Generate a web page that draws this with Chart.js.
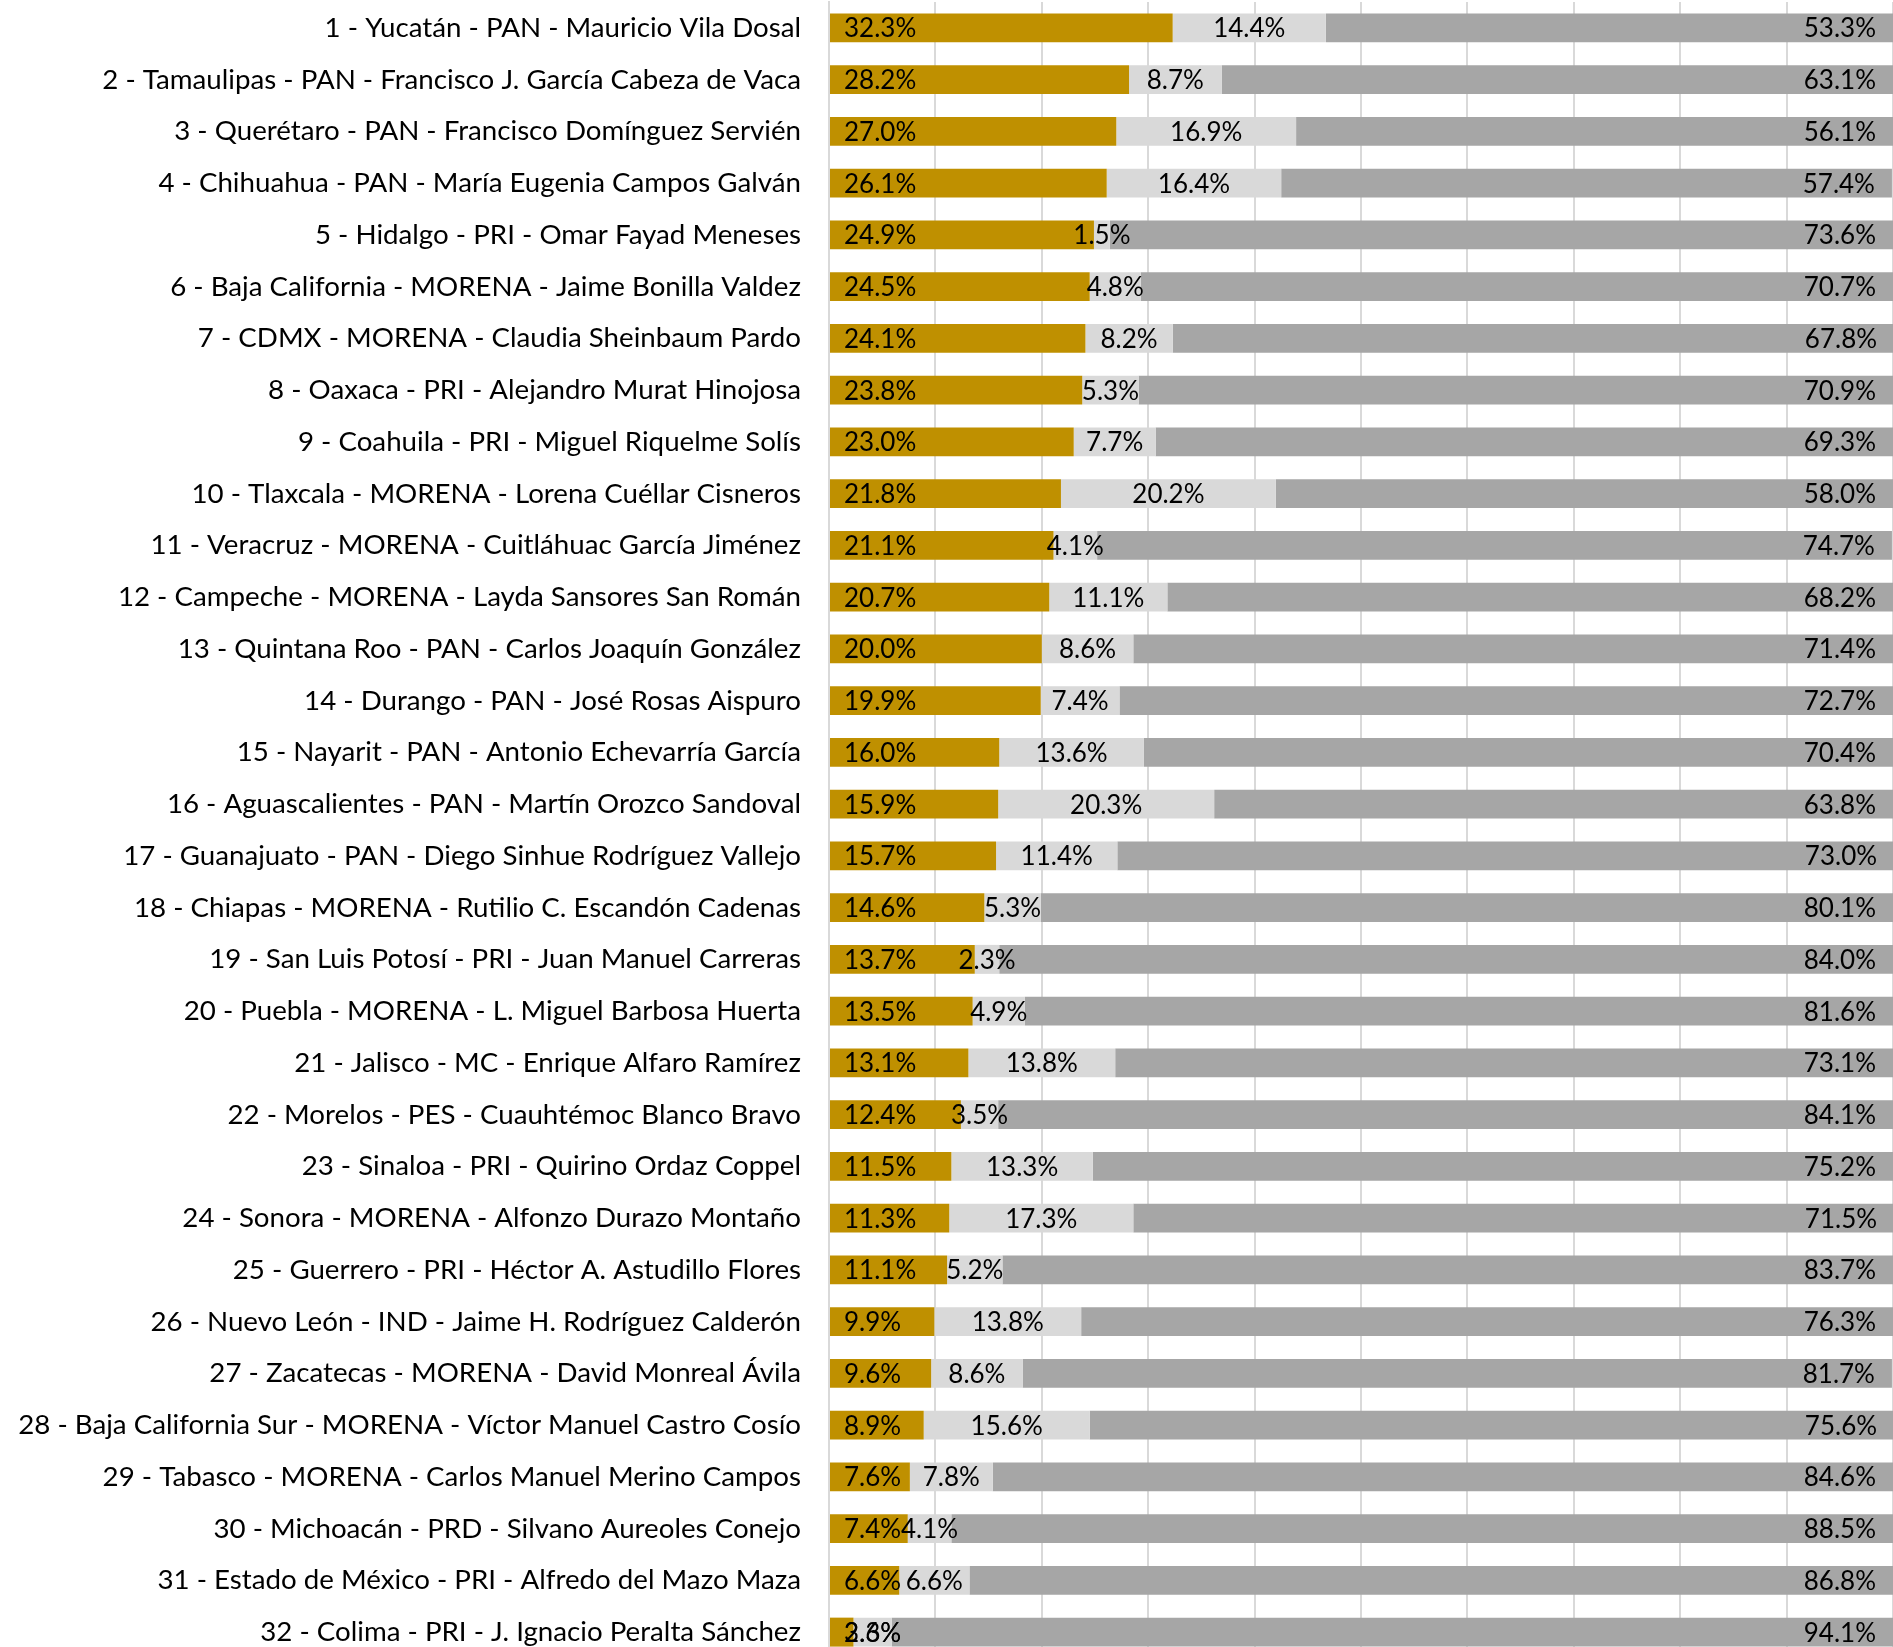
<!DOCTYPE html>
<html>
<head>
<meta charset="utf-8">
<script src="https://cdn.jsdelivr.net/npm/chart.js@4.4.1/dist/chart.umd.min.js"></script>
<style>
  html, body { margin: 0; padding: 0; background: #fff; overflow: hidden; }
  #chart { position: absolute; left: 0; top: 0; }
</style>
</head>
<body>
<canvas id="chart" width="1893" height="1660" style="width:1893px;height:1660px"></canvas>
<script>
// ranking of governors
const states = ['Yucatán', 'Tamaulipas', 'Querétaro', 'Chihuahua', 'Hidalgo', 'Baja California', 'CDMX', 'Oaxaca',
    'Coahuila', 'Tlaxcala', 'Veracruz', 'Campeche', 'Quintana Roo', 'Durango', 'Nayarit', 'Aguascalientes',
    'Guanajuato', 'Chiapas', 'San Luis Potosí', 'Puebla', 'Jalisco', 'Morelos', 'Sinaloa', 'Sonora',
    'Guerrero', 'Nuevo León', 'Zacatecas', 'Baja California Sur', 'Tabasco', 'Michoacán', 'Estado de México', 'Colima']
const parties = ['PAN', 'PAN', 'PAN', 'PAN', 'PRI', 'MORENA', 'MORENA', 'PRI',
    'PRI', 'MORENA', 'MORENA', 'MORENA', 'PAN', 'PAN', 'PAN', 'PAN',
    'PAN', 'MORENA', 'PRI', 'MORENA', 'MC', 'PES', 'PRI', 'MORENA',
    'PRI', 'IND', 'MORENA', 'MORENA', 'MORENA', 'PRD', 'PRI', 'PRI']
const governors = ['Mauricio Vila Dosal', 'Francisco J. García Cabeza de Vaca', 'Francisco Domínguez Servién',
    'María Eugenia Campos Galván', 'Omar Fayad Meneses', 'Jaime Bonilla Valdez', 'Claudia Sheinbaum Pardo',
    'Alejandro Murat Hinojosa', 'Miguel Riquelme Solís', 'Lorena Cuéllar Cisneros', 'Cuitláhuac García Jiménez',
    'Layda Sansores San Román', 'Carlos Joaquín González', 'José Rosas Aispuro', 'Antonio Echevarría García',
    'Martín Orozco Sandoval', 'Diego Sinhue Rodríguez Vallejo', 'Rutilio C. Escandón Cadenas', 'Juan Manuel Carreras',
    'L. Miguel Barbosa Huerta', 'Enrique Alfaro Ramírez', 'Cuauhtémoc Blanco Bravo', 'Quirino Ordaz Coppel',
    'Alfonzo Durazo Montaño', 'Héctor A. Astudillo Flores', 'Jaime H. Rodríguez Calderón', 'David Monreal Ávila',
    'Víctor Manuel Castro Cosío', 'Carlos Manuel Merino Campos', 'Silvano Aureoles Conejo', 'Alfredo del Mazo Maza',
    'J. Ignacio Peralta Sánchez']

const serie1 = [32.3, 28.2, 27.0, 26.1, 24.9, 24.5, 24.1, 23.8, 23.0, 21.8, 21.1, 20.7, 20.0, 19.9, 16.0, 15.9,
    15.7, 14.6, 13.7, 13.5, 13.1, 12.4, 11.5, 11.3, 11.1, 9.9, 9.6, 8.9, 7.6, 7.4, 6.6, 2.3]
const serie2 = [14.4, 8.7, 16.9, 16.4, 1.5, 4.8, 8.2, 5.3, 7.7, 20.2, 4.1, 11.1, 8.6, 7.4, 13.6, 20.3,
    11.4, 5.3, 2.3, 4.9, 13.8, 3.5, 13.3, 17.3, 5.2, 13.8, 8.6, 15.6, 7.8, 4.1, 6.6, 3.6]
const serie3 = [53.3, 63.1, 56.1, 57.4, 73.6, 70.7, 67.8, 70.9, 69.3, 58.0, 74.7, 68.2, 71.4, 72.7, 70.4, 63.8,
    73.0, 80.1, 84.0, 81.6, 73.1, 84.1, 75.2, 71.5, 83.7, 76.3, 81.7, 75.6, 84.6, 88.5, 86.8, 94.1]

const labels = states.map((s, i) => `${i + 1} - ${s} - ${parties[i]} - ${governors[i]}`)

const FONT = 'Lato, "Open Sans", sans-serif'
const GRID = '#D9D9D9'

// draws value labels: first series at base, second centered, third at the end
const valueLabels = {
    id: 'valueLabels',
    afterDatasetsDraw(chart) {
        const ctx = chart.ctx
        ctx.save()
        ctx.font = `26px ${FONT}`
        ctx.fillStyle = '#000'
        ctx.textBaseline = 'middle'
        chart.data.datasets.forEach((ds, di) => {
            const meta = chart.getDatasetMeta(di)
            meta.data.forEach((bar, i) => {
                const txt = ds.data[i].toFixed(1) + '%'
                const left = Math.min(bar.x, bar.base)
                const right = Math.max(bar.x, bar.base)
                if (di == 0) {
                    ctx.textAlign = 'left'
                    ctx.fillText(txt, left + 14, bar.y + 1)
                } else if (di == 1) {
                    ctx.textAlign = 'center'
                    ctx.fillText(txt, (left + right) / 2, bar.y + 1)
                } else {
                    ctx.textAlign = 'right'
                    ctx.fillText(txt, right - 17, bar.y + 1)
                }
            })
        })
        ctx.restore()
    }
}

new Chart(document.getElementById('chart'), {
    type: 'bar',
    data: {
        labels: labels,
        datasets: [
            { label: 'Serie 1', data: serie1, backgroundColor: '#BF9000' },
            { label: 'Serie 2', data: serie2, backgroundColor: '#D9D9D9' },
            { label: 'Serie 3', data: serie3, backgroundColor: '#A6A6A6' }
        ]
    },
    options: {
        indexAxis: 'y',
        responsive: false,
        animation: false,
        datasets: { bar: { barPercentage: 0.56, categoryPercentage: 1 } },
        layout: { padding: { top: 2, right: 0, bottom: 2, left: 0 } },
        plugins: { legend: { display: false }, tooltip: { enabled: false } },
        scales: {
            x: {
                stacked: true,
                min: 0,
                max: 100,
                ticks: { display: false, stepSize: 10 },
                grid: { color: GRID, lineWidth: 2, drawTicks: false },
                border: { display: false },
                afterFit(scale) { scale.height = 0; scale.paddingLeft = 0; scale.paddingRight = 0 }
            },
            y: {
                stacked: true,
                ticks: { color: '#000', font: { family: FONT, size: 27.7 }, padding: 28, autoSkip: false },
                grid: { display: false, drawTicks: false },
                border: { display: true, color: GRID, width: 2 },
                afterFit(scale) { scale.width = 829; scale.paddingTop = 0; scale.paddingBottom = 0 }
            }
        }
    },
    plugins: [valueLabels]
})
</script>
</body>
</html>
